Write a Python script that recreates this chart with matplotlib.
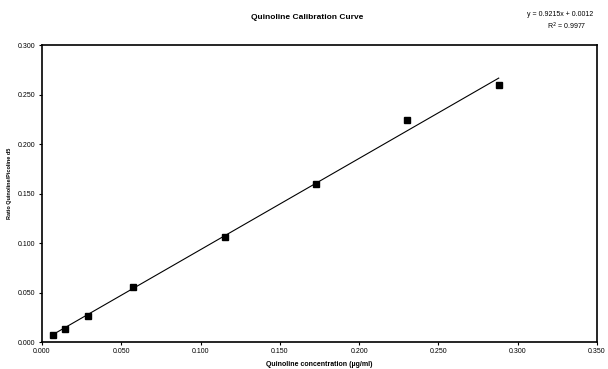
import numpy as np
import matplotlib
matplotlib.use('Agg')
import matplotlib.pyplot as plt

plt.rcParams['font.family'] = ['Liberation Sans', 'DejaVu Sans']

# data
conc = [0.0072, 0.0144, 0.0288, 0.0576, 0.1152, 0.1728, 0.2304, 0.288]
ratio = [0.007, 0.0135, 0.0265, 0.0555, 0.106, 0.160, 0.224, 0.2595]
slope = 0.9215
intercept = 0.0012
r2 = 0.9977
xticks = [0.0, 0.05, 0.10, 0.15, 0.20, 0.25, 0.30, 0.35]
yticks = [0.0, 0.05, 0.10, 0.15, 0.20, 0.25, 0.30]

fig = plt.figure(figsize=(6.08, 3.69), dpi=100)
ax = fig.add_axes([0.069, 0.073, 0.913, 0.805])

# trendline
xl = np.array([min(conc), max(conc)])
ax.plot(xl, slope * xl + intercept, color='black', linewidth=0.8, zorder=2)
ax.plot(conc, ratio, linestyle='none', marker='s', markersize=5,
        color='black', zorder=3)

ax.set_xlim(0, 0.35)
ax.set_ylim(0, 0.30)
ax.set_xticks(xticks)
ax.set_yticks(yticks)
ax.set_xticklabels([f'{v:.3f}' for v in xticks])
ax.set_yticklabels([f'{v:.3f}' for v in yticks])
ax.tick_params(axis='both', labelsize=5, direction='out', length=2.5,
               width=0.8, pad=2, colors='black')

for spine in ax.spines.values():
    spine.set_linewidth(1.2)
    spine.set_color('black')

ax.set_xlabel('Quinoline concentration (µg/ml)', fontsize=5, weight='bold', labelpad=4)
ax.set_ylabel('Ratio Quinoline/Picoline d5', fontsize=4, weight='bold')
ax.yaxis.set_label_coords(-0.054, 0.535)

fig.text(0.506, 0.952, 'Quinoline Calibration Curve', fontsize=6,
         weight='bold', ha='center', va='center')
fig.text(0.921, 0.962, f'y = {slope:.4f}x + {intercept:.4f}', fontsize=5,
         ha='center', va='center')
fig.text(0.932, 0.928, f'R$^2$ = {r2:.4f}', fontsize=5,
         ha='center', va='center')

fig.savefig('out.png', dpi=100)
